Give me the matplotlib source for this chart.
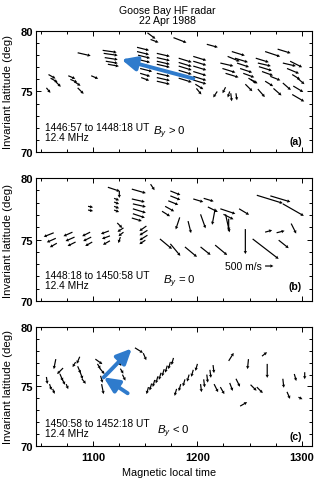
import numpy as np
import matplotlib.pyplot as plt
from matplotlib.ticker import MultipleLocator, FixedLocator

plt.rcParams['font.family'] = ['Liberation Sans', 'DejaVu Sans']
plt.rcParams['mathtext.fontset'] = 'custom'
plt.rcParams['mathtext.it'] = 'Liberation Sans:italic'
plt.rcParams['mathtext.rm'] = 'Liberation Sans'

# (a) 1446:57 to 1448:18 UT, By > 0 -- MLT (h), invariant lat (deg), east / north velocity (m/s)
a_mlt = [10.57, 10.59, 10.64, 10.55, 10.76, 10.78, 10.82, 10.85, 10.98, 10.85,
         11.09, 11.10, 11.11, 11.12, 11.14,
         11.42, 11.42, 11.43, 11.43, 11.44, 11.45, 11.45, 11.46, 11.52, 11.55,
         11.61, 11.61, 11.61, 11.61, 11.61, 11.61, 11.61, 11.61, 11.77,
         11.82, 11.82, 11.82, 11.82, 11.82, 11.82, 12.09,
         11.96, 11.96, 11.96, 11.96, 11.96, 11.96, 11.98, 11.99,
         12.22, 12.24, 12.27, 12.29, 12.33, 12.36, 12.38, 12.41, 12.44,
         12.56, 12.58, 12.59, 12.62, 12.49,
         12.65, 12.77, 12.82, 12.89, 12.86, 12.91, 12.96, 12.70,
         12.27, 12.31, 12.32, 12.37, 12.46, 12.58, 12.65, 12.73, 12.82, 12.91, 12.92, 12.19, 12.51]
a_lat = [76.4, 76.1, 75.8, 75.3, 76.3, 76.0, 75.8, 75.3, 76.3, 78.2,
         78.4, 78.15, 77.8, 77.5, 77.25,
         78.65, 78.3, 78.0, 77.65, 77.25, 76.9, 76.5, 76.15, 79.85, 79.3,
         78.15, 77.8, 77.5, 77.25, 76.85, 76.5, 76.15, 75.85, 79.45,
         77.75, 77.4, 77.1, 76.75, 76.4, 76.1, 78.9,
         77.9, 77.5, 77.1, 76.65, 76.25, 75.95, 75.6, 75.25,
         77.35, 76.9, 76.5, 77.9, 78.3, 77.75, 77.35, 76.9, 76.5,
         77.75, 77.35, 77.05, 76.65, 76.1,
         78.3, 78.5, 77.35, 77.5, 76.9, 76.4, 76.1, 76.25,
         75.35, 75.0, 74.85, 74.85, 75.6, 75.2, 75.85, 75.25, 75.7, 74.75, 75.45, 75.0, 76.0]
a_ve = [420, 420, 300, 240, 420, 420, 360, 360, 420, 780,
        840, 840, 780, 720, 660,
        720, 720, 720, 720, 720, 720, 600, 480, 480, 480,
        780, 780, 780, 780, 780, 780, 780, 780, 780,
        780, 780, 780, 780, 780, 780, 660,
        780, 780, 780, 780, 780, 780, 480, 300,
        780, 780, 780, 720, 780, 780, 720, 720, 660,
        780, 780, 780, 660, 480,
        900, 780, 780, 720, 720, 480, 420, 600,
        -180, -120, 60, 60, 420, 420, 480, 480, 480, 720, 600, -240, 420]
a_vn = [-240, -240, -300, -300, -180, -180, -240, -360, -180, -180,
        -120, -120, -120, -120, -120,
        -180, -180, -180, -180, -180, -180, -180, -180, -360, -180,
        -180, -180, -180, -180, -180, -180, -180, -180, -300,
        -240, -240, -240, -240, -240, -240, -180,
        -240, -240, -240, -240, -240, -240, -300, -360,
        -180, -240, -240, -300, -240, -240, -240, -240, -240,
        -240, -180, -240, -240, -300,
        -300, -240, -180, -360, -300, -300, -360, -240,
        -360, -360, -480, -420, -420, -480, -300, -420, -420, -420, -360, -360, -240]

# (b) 1448:18 to 1450:58 UT, By = 0
b_mlt = [10.62, 10.64, 10.65, 10.80, 10.82, 10.83, 10.97, 10.98, 10.99, 11.15, 11.16, 11.16,
         11.23, 11.29, 11.29, 11.26, 11.51, 11.52, 11.52, 11.50,
         10.95, 10.95, 11.14, 11.25, 11.20, 11.20, 11.20, 11.20, 11.37, 11.55,
         11.37, 11.38, 11.38, 11.38, 11.37,
         11.74, 11.74, 11.72, 11.69, 11.66, 11.96, 12.06, 12.10, 12.22, 12.25,
         12.57, 12.70, 12.82,
         11.83, 11.91, 12.03, 12.17, 12.27, 12.46, 11.64, 11.74, 11.88, 12.03, 12.17,
         12.53, 12.65, 12.76, 12.78, 12.90, 12.40, 12.30]
b_lat = [75.55, 75.1, 74.7, 75.6, 75.2, 74.8, 75.6, 75.2, 74.8, 75.7, 75.3, 74.9,
         76.35, 75.95, 75.6, 75.2, 76.1, 75.75, 75.35, 74.95,
         77.7, 77.4, 79.25, 78.95, 78.35, 78.05, 77.7, 77.4, 79.1, 79.5,
         78.3, 77.9, 77.5, 77.1, 76.75,
         78.95, 78.55, 78.15, 77.7, 77.3, 78.3, 78.35, 77.65, 77.5, 77.05,
         78.6, 78.55, 77.9,
         76.8, 76.5, 77.05, 77.5, 77.05, 75.85, 75.05, 74.65, 74.4, 74.4, 74.55,
         75.05, 75.6, 75.55, 74.95, 76.3, 77.5, 76.7]
b_ve = [-600, -540, -420, -540, -540, -480, -480, -480, -420, -480, -480, -420,
        300, -360, -300, -120, -420, -480, -480, -360,
        300, 300, 720, 0, 300, 300, 300, 300, 840, 240,
        780, 780, 780, 720, 600,
        600, 600, 600, 540, 480, 600, 600, 600, 900, 600,
        1560, 1200, 1260,
        -240, 180, 300, -180, 240, 0, 720, 600, 720, 600, 720,
        1560, 420, 480, 600, 300, 600, 0]
b_vn = [-240, -240, -240, -240, -240, -240, -240, -240, -240, -180, -180, -240,
        -300, -240, -240, -360, -300, -300, -300, -240,
        -60, -60, -240, -420, -120, -120, -120, -120, -240, -360,
        -180, -180, -240, -240, -180,
        -240, -240, -240, -300, -300, -180, -180, -300, -300, -300,
        -480, -360, -720,
        -720, -720, -840, -960, -1080, -1500, -600, -720, -600, -480, -600,
        -1200, 120, 120, -480, -600, -360, -720]

# (c) 1450:58 to 1452:18 UT, By < 0
c_mlt = [10.55, 10.58, 10.61, 10.64, 10.71, 10.68, 10.70, 10.74,
         10.87, 10.83, 10.85, 10.87, 10.89, 11.02, 11.04, 11.06, 11.07, 11.08,
         11.24, 11.26, 11.28, 11.40, 11.48,
         11.53, 11.56, 11.59, 11.62, 11.65, 11.68, 11.71, 11.74, 11.77,
         11.80, 11.84, 11.88, 11.92, 11.96, 12.00,
         12.03, 12.06, 12.09, 12.12, 12.15,
         12.16, 12.22, 12.31, 12.37, 12.51, 12.57,
         12.30, 12.49, 12.62, 12.67, 12.82, 12.86, 12.93, 12.97, 13.03, 12.41]
c_lat = [75.8, 75.2, 74.8, 77.3, 76.55, 76.05, 75.65, 75.2,
         77.5, 77.05, 76.7, 76.3, 75.65, 77.3, 76.9, 76.55, 75.9, 75.2,
         77.15, 76.5, 76.0, 78.25, 77.8,
         74.95, 75.25, 75.55, 75.85, 76.15, 76.45, 76.75, 77.05, 77.4,
         74.8, 75.2, 75.6, 76.0, 76.4, 76.9,
         75.2, 75.6, 76.0, 76.4, 76.8,
         75.2, 74.95, 75.3, 75.65, 75.15, 74.95,
         77.15, 77.3, 77.55, 76.9, 75.65, 74.55, 76.05, 74.1, 76.2, 73.35]
c_ve = [60, 120, 120, -120, -360, 180, 180, 120,
        -180, -180, 180, 180, 240, 420, 180, 300, 120, 120,
        180, 180, 180, 480, 180,
        -120, -120, -120, -120, -120, -120, -120, -120, -120,
        -120, -120, -120, -120, -120, -120,
        60, 60, 60, 60, 60,
        240, 240, 180, 240, 360, 360,
        300, -60, 300, 0, 60, 180, 120, 240, 0, 420]
c_vn = [-420, -360, -300, -600, -360, -420, -360, -300,
        -420, -300, -420, -480, -300, -300, -300, -360, -420, -600,
        -300, -300, -360, -300, -420,
        -420, -420, -420, -420, -420, -420, -420, -420, -420,
        -420, -420, -420, -420, -420, -420,
        -480, -480, -480, -480, -480,
        -480, -420, -480, -480, -360, -360,
        480, -600, 240, -840, -540, -420, -420, -120, -420, 240]

panels = [
    (a_mlt, a_lat, a_ve, a_vn, '1446:57 to 1448:18 UT', r'$B_y$ > 0', '(a)'),
    (b_mlt, b_lat, b_ve, b_vn, '1448:18 to 1450:58 UT', r'$B_y$ = 0', '(b)'),
    (c_mlt, c_lat, c_ve, c_vn, '1450:58 to 1452:18 UT', r'$B_y$ < 0', '(c)'),
]
boxes = [[0.1125, 0.682, 0.8625, 0.2515],
         [0.1125, 0.372, 0.8625, 0.2558],
         [0.1125, 0.0707, 0.8625, 0.2474]]
# blue arrows: feature motion (mlt, lat)
blue_a = [(11.96, 76.07), (11.27, 77.65)]
blue_c = [(11.33, 74.43), (11.10, 75.77), (11.37, 78.2)]
blue = '#2f7bcc'

fig = plt.figure(figsize=(3.2, 4.81), dpi=100)
fig.text(0.522, 0.977, 'Goose Bay HF radar', ha='center', va='center', fontsize=7.6)
fig.text(0.522, 0.957, '22 Apr 1988', ha='center', va='center', fontsize=7.6)

axes = []
for i, (mlt, lat, ve, vn, utxt, bytxt, tag) in enumerate(panels):
    ax = fig.add_axes(boxes[i])
    axes.append(ax)
    q = ax.quiver(mlt, lat, ve, vn, angles='uv', scale_units='dots', scale=60,
                  units='dots', width=1.2, headwidth=2.8, headlength=2.6,
                  headaxislength=2.4, color='k', pivot='tail')
    ax.set_xlim(10.45, 13.1)
    ax.set_ylim(70, 80)
    ax.xaxis.set_major_locator(FixedLocator([11, 12, 13]))
    ax.xaxis.set_minor_locator(MultipleLocator(0.25))
    ax.yaxis.set_major_locator(FixedLocator([70, 75, 80]))
    ax.yaxis.set_minor_locator(MultipleLocator(1))
    ax.tick_params(which='both', direction='in', top=True, right=True, width=0.7)
    ax.tick_params(which='major', length=3.5, labelsize=8, pad=2)
    ax.tick_params(which='minor', length=2.2)
    ax.tick_params(axis='x', which='major', pad=4)
    for lbl in ax.get_yticklabels():
        lbl.set_fontweight('bold')
    for s in ax.spines.values():
        s.set_linewidth(0.8)
    ax.set_ylabel('Invariant latitude (deg)', fontsize=8.2)
    ax.yaxis.set_label_coords(-0.085, 0.5)
    if i < 2:
        ax.set_xticklabels([])
    else:
        ax.set_xticklabels(['1100', '1200', '1300'], fontweight='bold')
        ax.set_xlabel('Magnetic local time', fontsize=7.8)
        ax.xaxis.set_label_coords(0.482, -0.175)
    ty = [(0.207, 0.124, 0.165, 0.09), (0.208, 0.127, 0.163, 0.122), (0.19, 0.105, 0.126, 0.084)][i]
    bx = [0.424, 0.46, 0.438][i]
    ax.text(0.033, ty[0], utxt, transform=ax.transAxes, fontsize=7.4, va='center')
    ax.text(0.033, ty[1], '12.4 MHz', transform=ax.transAxes, fontsize=7.4, va='center')
    ax.text(bx, ty[2], bytxt, transform=ax.transAxes, fontsize=8.2, va='center')
    ax.text(0.964, ty[3], tag, transform=ax.transAxes, fontsize=7.6, va='center', ha='right',
            fontweight='bold')
    if i == 1:
        ax.quiverkey(q, 0.83, 0.285, 500, '500 m/s', labelpos='W', coordinates='axes',
                     labelsep=0.03, fontproperties={'size': 7.4})

arrow_kw = dict(arrowstyle='-|>,head_length=0.9,head_width=0.42', lw=2.8, color=blue,
                shrinkA=0, shrinkB=0, mutation_scale=10)
axes[0].annotate('', xy=blue_a[1], xytext=blue_a[0], arrowprops=arrow_kw)
axes[2].annotate('', xy=blue_c[1], xytext=blue_c[0], arrowprops=arrow_kw)
axes[2].annotate('', xy=blue_c[2], xytext=blue_c[1], arrowprops=arrow_kw)

fig.savefig('out.png', dpi=100)
